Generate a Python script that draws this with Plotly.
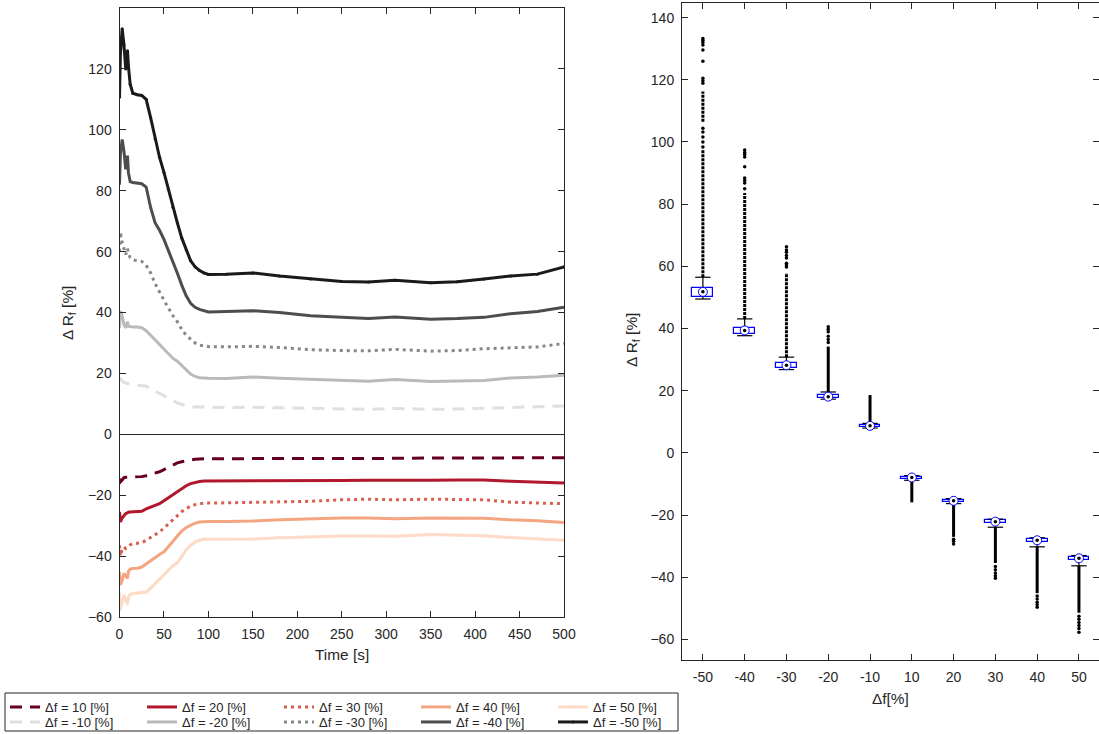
import plotly.graph_objects as go

# ---------------- time series (left panel) ----------------
t = [0, 1, 3, 5, 7, 9, 10, 12, 15, 20, 25, 30, 35, 40, 45, 50, 55, 60, 65, 70,
     75, 80, 85, 90, 95, 100, 120, 150, 180, 215, 250, 280, 310, 350, 380, 410,
     440, 470, 500]

rf_p10 = [-14.6, -15.6, -15.0, -14.2, -14.1, -14.1, -14.0, -14.0, -14.0, -14.0, -13.9, -13.6, -13.2,
          -12.8, -12.3, -11.6, -10.8, -10.0, -9.4, -9.0, -8.7, -8.4, -8.2, -8.1, -8.0, -8.0, -8.0,
          -8.0, -8.0, -7.9, -7.9, -8.1, -7.9, -7.8, -7.8, -7.7, -7.7, -7.7, -7.7]
rf_p20 = [-25.5, -28.8, -27.5, -26.8, -26.0, -25.8, -25.6, -25.5, -25.5, -25.4, -25.3, -24.5, -24.0,
          -23.5, -22.8, -21.8, -20.8, -19.8, -18.8, -17.8, -16.9, -16.2, -15.8, -15.5, -15.3, -15.3,
          -15.4, -15.4, -15.3, -15.2, -15.2, -15.1, -15.2, -15.1, -15.0, -15.0, -15.4, -15.6, -16.0]
rf_p30 = [-36.5, -40.0, -37.5, -37.0, -37.5, -37.0, -36.8, -36.3, -36.0, -35.9, -35.6, -34.8, -34.0,
          -33.0, -32.1, -30.8, -29.4, -28.0, -26.6, -25.4, -24.4, -23.6, -23.1, -22.8, -22.6, -22.6,
          -22.5, -22.5, -22.2, -22.0, -21.5, -21.3, -21.5, -21.3, -21.4, -21.5, -22.3, -22.5, -22.8]
rf_p40 = [-45.2, -49.5, -48.0, -45.7, -46.5, -47.3, -45.0, -44.3, -44.1, -44.0, -43.6, -42.5, -41.5,
          -40.5, -39.5, -38.6, -37.0, -35.2, -33.4, -31.8, -30.6, -29.8, -29.2, -28.8, -28.6, -28.6,
          -28.6, -28.5, -28.1, -27.7, -27.5, -27.5, -27.7, -27.5, -27.5, -27.6, -28.1, -28.4, -29.0]
rf_p50 = [-52.3, -57.5, -55.0, -52.9, -54.5, -55.6, -53.5, -52.6, -52.3, -52.2, -52.0, -51.8, -50.5,
          -49.0, -47.5, -46.2, -44.5, -43.2, -42.2, -40.2, -38.0, -36.5, -35.4, -34.8, -34.4, -34.5,
          -34.5, -34.4, -34.0, -33.7, -33.4, -33.4, -33.5, -32.9, -33.2, -33.3, -33.9, -34.3, -34.8]
rf_m10 = [18.5, 18.3, 17.5, 17.0, 16.8, 16.7, 16.6, 16.5, 16.4, 16.2, 16.1, 15.8, 15.0, 14.2, 13.4,
          12.6, 11.8, 11.0, 10.3, 9.8, 9.4, 9.1, 9.0, 8.9, 8.9, 8.9, 8.8, 8.9, 8.7, 8.5, 8.3, 8.2,
          8.5, 8.2, 8.3, 8.6, 8.8, 9.0, 9.3]
rf_m20 = [35.0, 40.5, 39.0, 36.0, 35.0, 37.0, 35.5, 35.3, 35.2, 35.2, 35.0, 34.0, 32.5, 31.0, 29.8,
          28.0, 26.5, 25.0, 24.0, 22.5, 21.0, 19.8, 19.0, 18.6, 18.5, 18.4, 18.3, 18.8, 18.4, 18.0,
          17.5, 17.4, 18.0, 17.3, 17.5, 17.7, 18.5, 18.8, 19.4]
rf_m30 = [60.0, 66.4, 63.0, 61.0, 59.0, 61.0, 59.5, 58.0, 57.3, 57.0, 56.8, 55.5, 53.0, 49.5, 46.5,
          44.0, 41.5, 39.0, 37.0, 34.5, 32.5, 31.2, 30.0, 29.3, 29.0, 28.8, 28.7, 28.9, 28.5, 27.8,
          27.5, 27.4, 27.9, 27.3, 27.5, 28.1, 28.4, 28.7, 29.8]
rf_m40 = [82.0, 92.0, 96.8, 93.0, 87.0, 91.5, 86.0, 83.0, 82.7, 82.5, 82.3, 81.2, 74.5, 69.5, 67.0,
          64.0, 60.5, 57.0, 53.0, 49.0, 45.5, 43.0, 41.7, 41.0, 40.5, 40.2, 40.3, 40.6, 40.0, 38.9,
          38.4, 38.0, 38.5, 37.8, 38.0, 38.4, 39.6, 40.3, 41.7]
rf_m50 = [110.7, 125.0, 133.2, 128.0, 120.0, 126.0, 121.0, 115.0, 112.0, 111.5, 111.3, 110.0, 104.0,
          97.0, 91.0, 86.0, 80.5, 74.5, 69.5, 64.5, 60.5, 57.0, 55.0, 53.8, 53.0, 52.5, 52.6, 53.0,
          52.0, 51.0, 50.2, 50.0, 50.6, 49.8, 50.1, 51.0, 52.0, 52.6, 55.0]

# ---------------- box statistics (right panel) ----------------
df_labels = ["-50", "-40", "-30", "-20", "-10", "10", "20", "30", "40", "50"]
box_q1 = [50.3, 38.2, 27.2, 17.6, 8.3, -8.4, -15.9, -22.6, -28.6, -34.4]
box_med = [51.8, 39.4, 28.2, 18.1, 8.7, -7.9, -15.4, -22.1, -28.1, -33.9]
box_q3 = [53.0, 40.3, 29.0, 18.6, 9.1, -7.6, -15.0, -21.6, -27.6, -33.4]
whisk_lo = [49.5, 37.7, 26.8, 17.3, 8.0, -8.8, -16.3, -23.9, -30.2, -36.3]
whisk_hi = [56.5, 43.1, 30.8, 19.6, 9.5, -7.3, -14.7, -21.3, -27.3, -33.0]

# outliers: densely packed runs (low, high) and isolated points per group
outlier_runs = [
    [(56.5, 97.4), (106.5, 116.2)],
    [(43.1, 83.6)],
    [(30.8, 57.9)],
    [(19.6, 34.2)],
    [(9.5, 18.6)],
    [(-15.9, -8.8)],
    [(-27.0, -16.3)],
    [(-35.4, -23.9)],
    [(-45.1, -30.2)],
    [(-51.4, -36.3)],
]
# groups whose runs are sparse enough that single points stay visible
sparse_runs = [True, True, True, False, False, False, False, False, False, False]
outlier_points = [
    [98.4, 100.0, 101.6, 103.2, 104.4, 118.9, 119.7, 120.5, 126.0, 129.6, 131.2, 132.0, 132.7, 133.3],
    [85.0, 86.8, 87.6, 88.4, 92.0, 95.2, 96.0, 96.6, 97.4],
    [59.8, 60.4, 61.0, 62.7, 63.5, 64.5, 65.3, 66.3],
    [35.5, 36.5, 37.5, 39.0, 39.8, 40.6],
    [],
    [],
    [-27.8, -28.4, -29.3],
    [-36.5, -37.6, -38.6, -39.5, -40.3],
    [-46.0, -47.0, -48.0, -48.8, -49.6],
    [-52.5, -53.5, -54.5, -55.5, -56.5, -57.7],
]

FONT = "Liberation Sans, Arial, Helvetica, sans-serif"
INK = "#262626"

fig = go.Figure()

series = [
    ("Δf = 10 [%]", rf_p10, "#67001f", "12px,8px", False, "legend"),
    ("Δf = 20 [%]", rf_p20, "#b2182b", "solid", False, "legend"),
    ("Δf = 30 [%]", rf_p30, "#d6604d", "3px,4px", False, "legend"),
    ("Δf = 40 [%]", rf_p40, "#f4a582", "solid", False, "legend"),
    ("Δf = 50 [%]", rf_p50, "#fddbc7", "solid", True, "legend"),
    ("Δf = -10 [%]", rf_m10, "#e0e0e0", "12px,8px", False, "legend2"),
    ("Δf = -20 [%]", rf_m20, "#bababa", "solid", False, "legend2"),
    ("Δf = -30 [%]", rf_m30, "#878787", "3px,4px", False, "legend2"),
    ("Δf = -40 [%]", rf_m40, "#4d4d4d", "solid", False, "legend2"),
    ("Δf = -50 [%]", rf_m50, "#1a1a1a", "solid", True, "legend2"),
]
for name, vals, col, dash, dotted, lg in series:
    fig.add_trace(go.Scatter(
        x=t, y=vals, name=name, legend=lg,
        mode="lines+markers" if dotted else "lines",
        line=dict(color=col, width=3, dash=dash),
        marker=dict(size=3, color=col),
        xaxis="x", yaxis="y",
    ))

# ---------------- box plot panel ----------------
pos = list(range(len(df_labels)))

# boxes (q1 -> q3)
fig.add_trace(go.Bar(
    x=pos, base=box_q1, y=[h - l for l, h in zip(box_q1, box_q3)],
    width=0.5, marker=dict(color="white", line=dict(color="#0000ff", width=1.2)),
    showlegend=False, xaxis="x2", yaxis="y2",
))

# whiskers
wx, wy = [], []
for i in pos:
    wx += [i, i, None, i, i, None]
    wy += [box_q3[i], whisk_hi[i], None, box_q1[i], whisk_lo[i], None]
fig.add_trace(go.Scatter(x=wx, y=wy, mode="lines", line=dict(color="black", width=1.2),
                         showlegend=False, xaxis="x2", yaxis="y2"))
fig.add_trace(go.Scatter(
    x=pos + pos, y=whisk_hi + whisk_lo, mode="markers",
    marker=dict(symbol="line-ew", size=11, line=dict(color="black", width=1.2)),
    showlegend=False, xaxis="x2", yaxis="y2"))

# outliers
for sparse in (True, False):
    rx, ry = [], []
    for i, runs in enumerate(outlier_runs):
        if sparse_runs[i] != sparse:
            continue
        for lo, hi in runs:
            rx += [i, i, None]
            ry += [lo, hi, None]
    fig.add_trace(go.Scatter(x=rx, y=ry, mode="lines",
                             line=dict(color="black", width=3,
                                       dash="3px,1px" if sparse else "solid"),
                             showlegend=False, xaxis="x2", yaxis="y2"))
px_, py_ = [], []
for i, pts in enumerate(outlier_points):
    px_ += [i] * len(pts)
    py_ += pts
fig.add_trace(go.Scatter(x=px_, y=py_, mode="markers",
                         marker=dict(color="black", size=3.5),
                         showlegend=False, xaxis="x2", yaxis="y2"))

# medians: open blue circle with black centre dot
fig.add_trace(go.Scatter(x=pos, y=box_med, mode="markers",
                         marker=dict(symbol="circle", size=9, color="white",
                                     line=dict(color="#0000ff", width=1)),
                         showlegend=False, xaxis="x2", yaxis="y2"))
fig.add_trace(go.Scatter(x=pos, y=box_med, mode="markers",
                         marker=dict(symbol="circle", size=3.5, color="black"),
                         showlegend=False, xaxis="x2", yaxis="y2"))

axis_common = dict(
    showline=True, linecolor=INK, linewidth=1, mirror="ticks",
    ticks="inside", ticklen=6, tickcolor=INK, tickwidth=1,
    showgrid=False, tickfont=dict(family=FONT, size=14, color=INK),
    ticklabelstandoff=4,
)
W, H = 1099, 734
TITLE_FONT = dict(family=FONT, size=15.4, color=INK)
LEG_FONT = dict(family=FONT, size=13, color=INK)


def axis_title(text, x, y, angle=0):
    return dict(text=text, x=x / W, y=(H - y) / H, xref="paper", yref="paper",
                showarrow=False, textangle=angle, font=TITLE_FONT,
                xanchor="center", yanchor="middle")


fig.update_layout(
    width=W, height=H,
    margin=dict(l=0, r=0, t=0, b=0, autoexpand=False),
    paper_bgcolor="white", plot_bgcolor="white",
    font=dict(family=FONT, color=INK),
    xaxis=dict(domain=[119.5 / W, 564 / W], range=[0, 500], tickvals=list(range(0, 501, 50)),
               anchor="y", zeroline=False, **axis_common),
    yaxis=dict(domain=[117 / H, 726 / H], range=[-60, 140], tickvals=list(range(-60, 141, 20)),
               anchor="x", zeroline=True, zerolinecolor=INK, zerolinewidth=1, **axis_common),
    xaxis2=dict(domain=[682 / W, 1.0], range=[-0.5, 9.48], tickvals=pos, ticktext=df_labels,
                anchor="y2", zeroline=False, **axis_common),
    yaxis2=dict(domain=[74 / H, 731 / H], range=[-66.6, 144.7], tickvals=list(range(-60, 141, 20)),
                anchor="x2", zeroline=False, **axis_common),
    annotations=[
        axis_title("Time [s]", 342, 654),
        axis_title("Δ R<sub>f</sub> [%]", 68, 313, -90),
        axis_title("Δf[%]", 890, 698),
        axis_title("Δ R<sub>f</sub> [%]", 633, 340, -90),
    ],
    legend=dict(x=5 / W, xanchor="left", y=(H - 707) / H, yanchor="middle",
                xref="container", yref="container",
                orientation="h", entrywidth=92, entrywidthmode="pixels",
                bgcolor="rgba(0,0,0,0)", borderwidth=0, font=LEG_FONT),
    legend2=dict(x=5 / W, xanchor="left", y=(H - 722) / H, yanchor="middle",
                 xref="container", yref="container",
                 orientation="h", entrywidth=92, entrywidthmode="pixels",
                 bgcolor="rgba(0,0,0,0)", borderwidth=0, font=LEG_FONT),
    shapes=[dict(type="rect", xref="paper", yref="paper",
                 x0=5 / W, x1=678 / W, y0=(H - 731) / H, y1=(H - 693) / H,
                 line=dict(color=INK, width=1), fillcolor="rgba(0,0,0,0)", layer="below")],
    showlegend=True,
    bargap=0,
)

fig.write_html("out.html")
